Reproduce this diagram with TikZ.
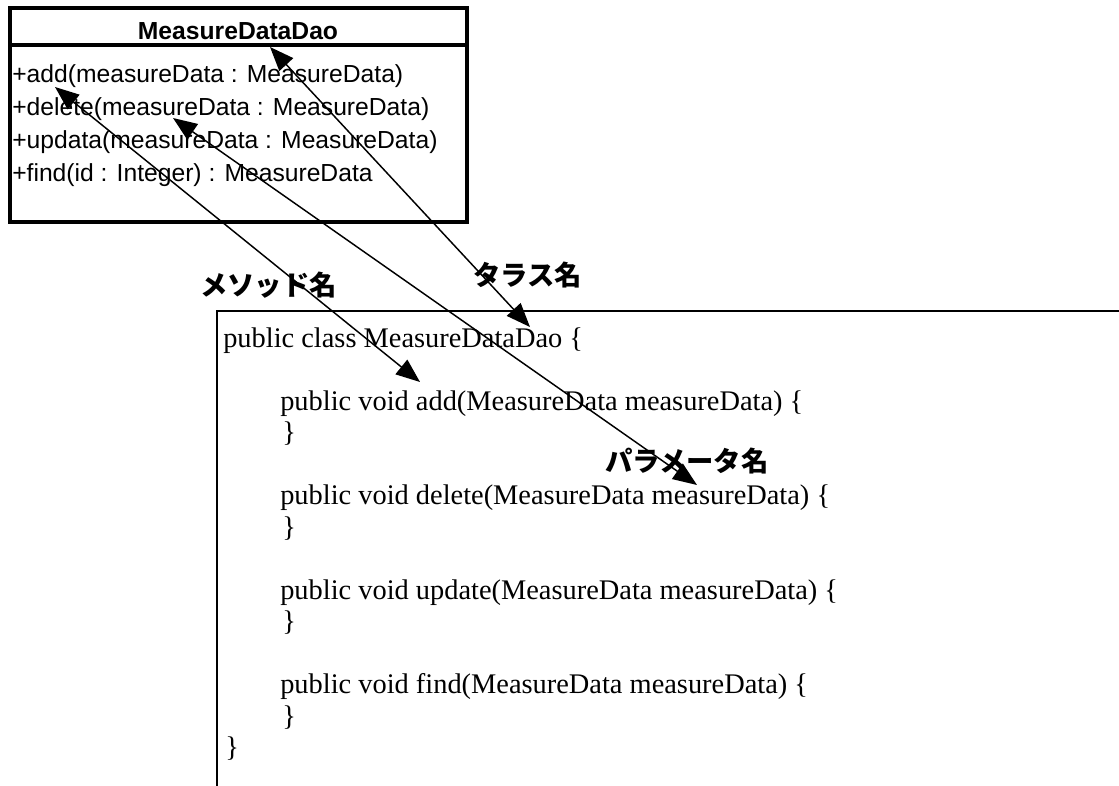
\documentclass[tikz,border=0pt]{standalone}
\usepackage{fontspec}
\setmainfont{Liberation Serif}
\newfontfamily\umlfont{Liberation Sans}
\newfontfamily\jpfont{Noto Sans CJK JP}
\usetikzlibrary{arrows.meta}

\begin{document}
\begin{tikzpicture}[x=0.75pt,y=-0.75pt,
  umlrow/.style={font=\umlfont\fontsize{18.5pt}{22pt}\selectfont, anchor=base west, inner sep=0pt},
  umltitle/.style={font=\umlfont\bfseries\fontsize{18.5pt}{22pt}\selectfont, anchor=base, inner sep=0pt},
  codeline/.style={font=\fontsize{21.3pt}{24pt}\selectfont, anchor=base west, inner sep=0pt},
  jplabel/.style={font=\jpfont\bfseries\fontsize{20.5pt}{24pt}\selectfont, anchor=west, inner sep=0pt},
  link/.style={line width=1.1pt, {Triangle[length=18pt,width=14pt]}-{Triangle[length=18pt,width=14pt]}},
]
\useasboundingbox (0,0) rectangle (1119,785);

% UML class box
\draw[line width=2.7pt] (10,8) rectangle (467,222);
\draw[line width=2.7pt] (10,45) -- (467,45);
\node[umltitle] (title) at (238,39) {MeasureDataDao};
\node[umlrow] (opadd) at (12,82) {+add(measureData : MeasureData)};
\node[umlrow] (opdel) at (12,115) {+delete(measureData : MeasureData)};
\node[umlrow] (opupd) at (12,148) {+updata(measureData : MeasureData)};
\node[umlrow] (opfind) at (12,181) {+find(id : Integer) : MeasureData};

% source code frame (runs off the page)
\draw[line width=1.1pt] (217,790) -- (217,311) -- (1125,311);
\node[codeline] (c1) at (223,347) {public class MeasureDataDao \{};
\node[codeline] (c3) at (280,410) {public void add(MeasureData measureData) \{};
\node[codeline] (c4) at (282,441.5) {\}};
\node[codeline] (c6) at (280,504.5) {public void delete(MeasureData measureData) \{};
\node[codeline] (c7) at (282,536) {\}};
\node[codeline] (c9) at (280,599) {public void update(MeasureData measureData) \{};
\node[codeline] (c10) at (282,630.5) {\}};
\node[codeline] (c12) at (280,693.5) {public void find(MeasureData measureData) \{};
\node[codeline] (c13) at (282,725) {\}};
\node[codeline] (c14) at (225,756.5) {\}};

% labels
\node[jplabel] (lmethod) at (200,285) {メソッド名};
\node[jplabel] (lclass) at (473,275) {タラス名};
\node[jplabel] (lparam) at (605,461) {パラメータ名};

% correspondence arrows
\coordinate (classU) at (270,47);
\coordinate (classC) at (530,327);
\coordinate (methU) at (55,87);
\coordinate (methC) at (420,382);
\coordinate (parU) at (173,118);
\coordinate (parC) at (697,485);
\draw[link] (classU) -- (classC);
\draw[link] (methU) -- (methC);
\draw[link] (parU) -- (parC);
\end{tikzpicture}
\end{document}
